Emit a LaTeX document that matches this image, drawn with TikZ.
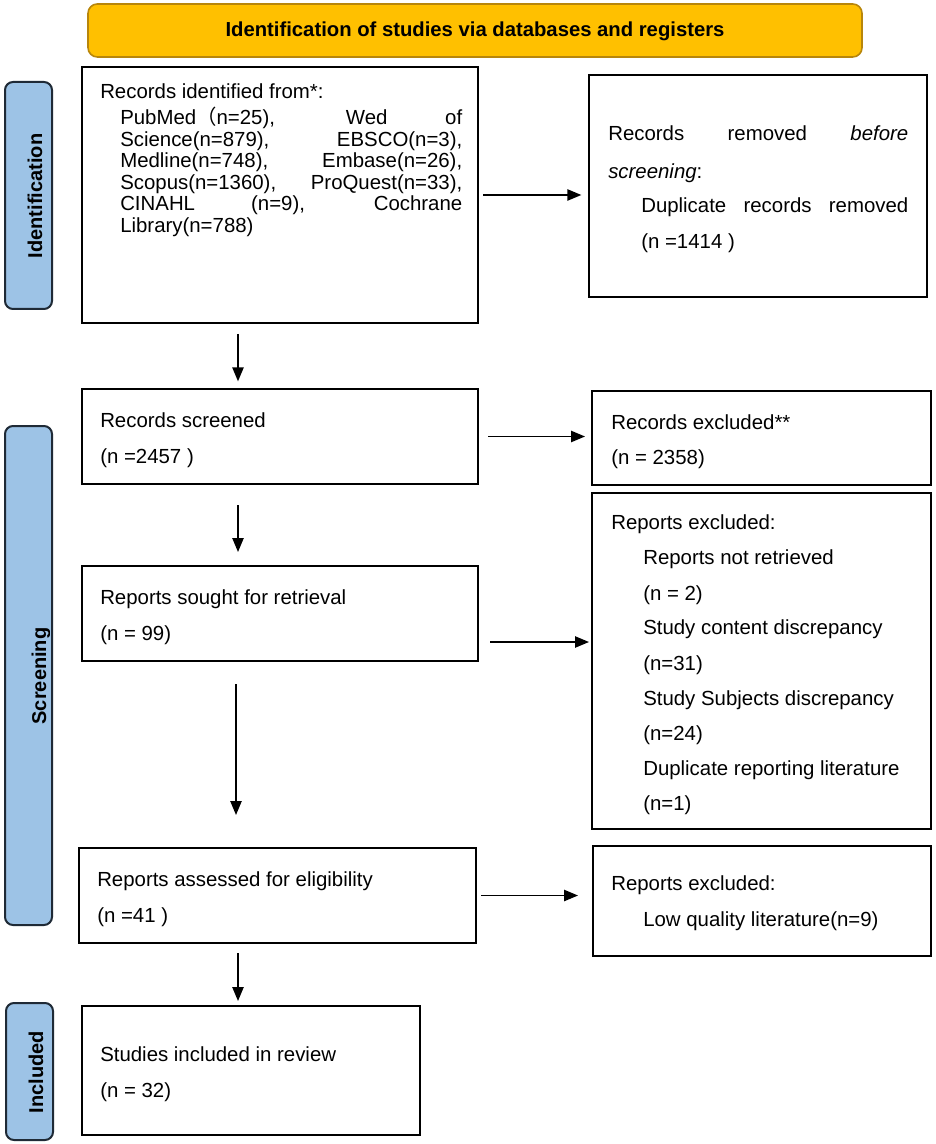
\documentclass[tikz,border=0pt]{standalone}
\usepackage{fontspec}
\setmainfont{Liberation Sans}
\newfontfamily\cjk{Noto Sans CJK SC}
\usetikzlibrary{arrows.meta,fit}
\definecolor{bannerfill}{HTML}{FFC000}
\definecolor{bannerline}{HTML}{B8860B}
\definecolor{sidefill}{HTML}{9DC3E6}
\definecolor{sideline}{HTML}{1F2A36}
\tikzset{
  box/.style={draw=black, line width=1.5pt, inner sep=0pt},
  sidebox/.style={draw=sideline, fill=sidefill, line width=1.5pt, rounded corners=6pt, inner sep=0pt},
  sidelabel/.style={rotate=90, anchor=base, inner sep=0pt, font=\fontsize{15}{18}\selectfont\bfseries},
  txt/.style={anchor=base west, inner sep=0pt, font=\fontsize{15.3}{18}\selectfont},
  arr/.style={line width=1.1pt, -{Triangle[length=10.5pt,width=8.5pt]}},
}
\begin{document}
\begin{tikzpicture}[x=0.75pt,y=-0.75pt]
\useasboundingbox (0,0) rectangle (935,1144);
\fill[white] (0,0) rectangle (935,1144);

% banner
\node[draw=bannerline, fill=bannerfill, line width=1.2pt, rounded corners=7pt, inner sep=0pt,
      fit={(88,4) (862,57)}] (banner) {};
\node[inner sep=0pt, font=\fontsize{15.2}{18}\selectfont\bfseries] (bannertxt) at (475,31)
  {Identification of studies via databases and registers};

% side boxes
\node[sidebox, fit={(5,82) (52,309)}] (sideid) {};
\node[sidelabel] (sideidtxt) at (42,196) {Identification};
\node[sidebox, fit={(5,426) (52,925)}] (sidescr) {};
\begin{scope}
  \clip (5,426) rectangle (49.5,925);
  \node[sidelabel] (sidescrtxt) at (46,676) {Screening};
\end{scope}
\node[sidebox, fit={(6,1003) (53,1140)}] (sideinc) {};
\node[sidelabel] (sideinctxt) at (43,1072) {Included};

% boxes
\node[box, fit={(82,67) (478,323)}] (rid) {};
\node[box, fit={(589,75) (927,297)}] (rrem) {};
\node[box, fit={(82,389) (478,484)}] (rscr) {};
\node[box, fit={(592,391) (931,485)}] (rexc) {};
\node[box, fit={(82,566) (478,661)}] (rsought) {};
\node[box, fit={(592,493) (931,829)}] (repexc) {};
\node[box, fit={(79,848) (476,943)}] (rass) {};
\node[box, fit={(593,846) (931,956)}] (lowq) {};
\node[box, fit={(82,1006) (420,1135)}] (sinc) {};

% texts: records identified
\node[txt] (a0) at (100,99) {Records identified from*:};
\node[txt] (a1) at (120,125) {\makebox[256.5pt][s]{PubMed{\cjk （}n=25), Wed of}};
\node[txt] (a2) at (120,147) {\makebox[256.5pt][s]{Science(n=879), EBSCO(n=3),}};
\node[txt] (a3) at (120,168) {\makebox[256.5pt][s]{Medline(n=748), Embase(n=26),}};
\node[txt] (a4) at (120,190) {\makebox[256.5pt][s]{Scopus(n=1360), ProQuest(n=33),}};
\node[txt] (a5) at (120,211) {\makebox[256.5pt][s]{CINAHL (n=9), Cochrane}};
\node[txt] (a6) at (120,233) {Library(n=788)};

% records removed
\node[txt] (b0) at (608,141) {\makebox[225pt][s]{Records removed \textit{before}}};
\node[txt] (b1) at (608,179) {\textit{screening}:};
\node[txt] (b2) at (641,213) {\makebox[200.25pt][s]{Duplicate records removed}};
\node[txt] (b3) at (641,249) {(n =1414 )};

% records screened / excluded
\node[txt] (c0) at (100,427) {Records screened};
\node[txt] (c1) at (100,463) {(n =2457 )};
\node[txt] (d0) at (611,429) {Records excluded**};
\node[txt] (d1) at (611,464) {(n = 2358)};

% reports sought
\node[txt] (e0) at (100,604) {Reports sought for retrieval};
\node[txt] (e1) at (100,640) {(n = 99)};

% reports excluded
\node[txt] (f0) at (611,529) {Reports excluded:};
\node[txt] (f1) at (643,564) {Reports not retrieved};
\node[txt] (f2) at (643,600) {(n = 2)};
\node[txt] (f3) at (643,634) {Study content discrepancy};
\node[txt] (f4) at (643,670) {(n=31)};
\node[txt] (f5) at (643,705) {Study Subjects discrepancy};
\node[txt] (f6) at (643,740) {(n=24)};
\node[txt] (f7) at (643,775) {Duplicate reporting literature};
\node[txt] (f8) at (643,810) {(n=1)};

% reports assessed
\node[txt] (g0) at (97,886) {Reports assessed for eligibility};
\node[txt] (g1) at (97,922) {(n =41 )};
\node[txt] (h0) at (611,890) {Reports excluded:};
\node[txt] (h1) at (643,926) {Low quality literature(n=9)};

% included
\node[txt] (i0) at (100,1061) {Studies included in review};
\node[txt] (i1) at (100,1097) {(n = 32)};

% connectors
\coordinate (ax) at (238,0);
\coordinate (bx) at (236,0);
\coordinate (ay) at (0,642);
\draw[arr, shorten <=3pt, shorten >=5pt] (rid.east) -- (rid.east -| rrem.west);
\draw[arr, shorten <=7.5pt, shorten >=5pt] (rid.south -| ax) -- (rscr.north -| ax);
\draw[arr, shorten <=6.75pt, shorten >=4.5pt] (rscr.east) -- (rscr.east -| rexc.west);
\draw[arr, shorten <=15pt, shorten >=9.75pt] (rscr.south -| ax) -- (rsought.north -| ax);
\draw[arr, shorten <=8.25pt, shorten >=1.5pt] (rsought.east |- ay) -- (repexc.west |- ay);
\draw[arr, shorten <=16.5pt, shorten >=24pt] (rsought.south -| bx) -- (rass.north -| bx);
\draw[arr, shorten <=3pt, shorten >=10.5pt] (rass.east) -- (rass.east -| lowq.west);
\draw[arr, shorten <=6.75pt, shorten >=3pt] (rass.south -| ax) -- (sinc.north -| ax);
\end{tikzpicture}
\end{document}
